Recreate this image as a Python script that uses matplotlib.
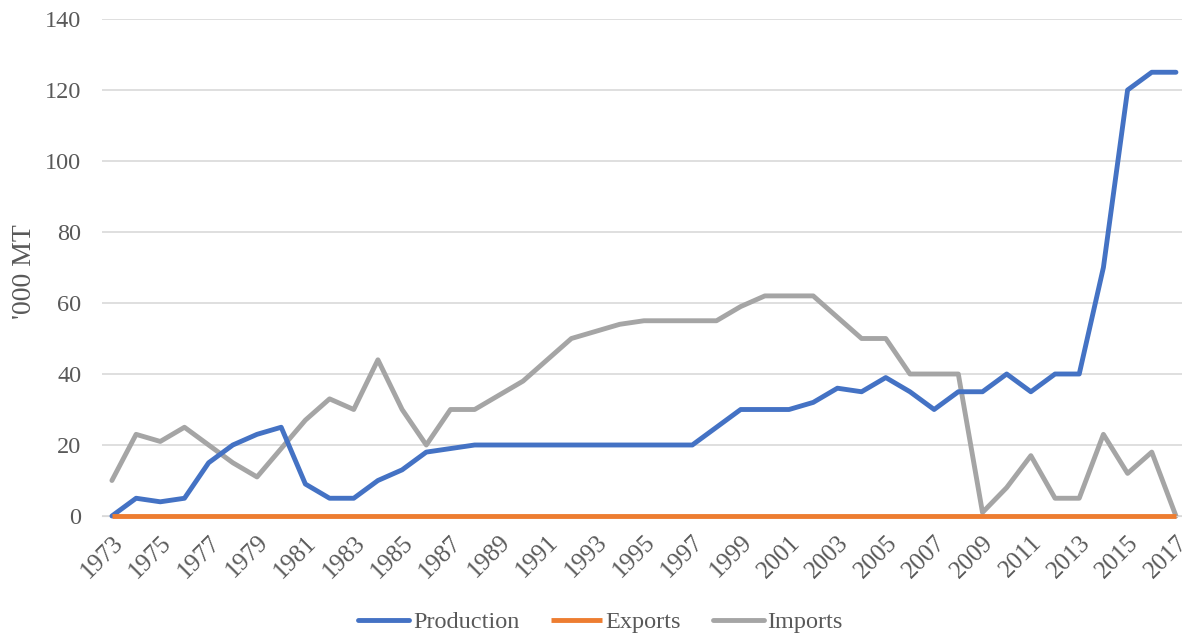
import matplotlib.pyplot as plt
import numpy as np

# Data ('000 MT)
years = list(range(1973, 2018))
production = [0, 5, 4, 5, 15, 20, 23, 25, 9, 5, 5, 10, 13, 18, 19, 20,
              20, 20, 20, 20, 20, 20, 20, 20, 20, 25, 30, 30, 30, 32, 36,
              35, 39, 35, 30, 35, 35, 40, 35, 40, 40, 70, 120, 125, 125]
exports = [0] * len(years)
imports = [10, 23, 21, 25, 20, 15, 11, 19, 27, 33, 30, 44, 30, 20, 30, 30,
           34, 38, 44, 50, 52, 54, 55, 55, 55, 55, 59, 62, 62, 62, 56,
           50, 50, 40, 40, 40, 1, 8, 17, 5, 5, 23, 12, 18, 0]

plt.rcParams['font.family'] = ['Liberation Serif', 'DejaVu Serif']
text_color = '#595959'

fig = plt.figure(figsize=(11.82, 6.37), dpi=100)
ax = fig.add_axes([102 / 1182, 1 - 516 / 637, 1 - 102 / 1182, 497 / 637])

lw = 3.5
ax.plot(years, production, color='#4472C4', lw=lw, label='Production',
        solid_capstyle='round', solid_joinstyle='round', clip_on=False, zorder=3)
ax.plot(years, exports, color='#ED7D31', lw=lw, label='Exports',
        solid_capstyle='butt', clip_on=False, zorder=3)
ax.plot(years, imports, color='#A5A5A5', lw=lw, label='Imports',
        solid_capstyle='round', solid_joinstyle='round', clip_on=False, zorder=2)

ax.set_xlim(1972.59, 2017.25)
ax.set_ylim(0, 140)
ax.set_yticks(np.arange(0, 141, 20))
ax.set_xticks(years[::2])
ax.set_xticklabels([str(y) for y in years[::2]], rotation=45, ha='right',
                   rotation_mode='anchor')

ax.grid(axis='y', color='#d9d9d9', lw=1.2)
ax.set_axisbelow(True)
for s in ['top', 'right', 'left']:
    ax.spines[s].set_visible(False)
ax.spines['bottom'].set_color('#d9d9d9')
ax.tick_params(axis='both', length=0, labelsize=17.5, colors=text_color)
ax.tick_params(axis='x', labelsize=18, pad=11)
ax.tick_params(axis='y', pad=15)

fig.text(25 / 1182, 1 - 272 / 637, "'000 MT", rotation=90, ha='center',
         va='center', fontsize=20, color=text_color)

fig.legend(loc='center', bbox_to_anchor=(0.508, 1 - 622 / 637), ncol=3,
           frameon=False, fontsize=17.5, labelcolor=text_color,
           handlelength=2.1, handletextpad=0.15, columnspacing=1.3)

fig.savefig('out.png', dpi=100)
